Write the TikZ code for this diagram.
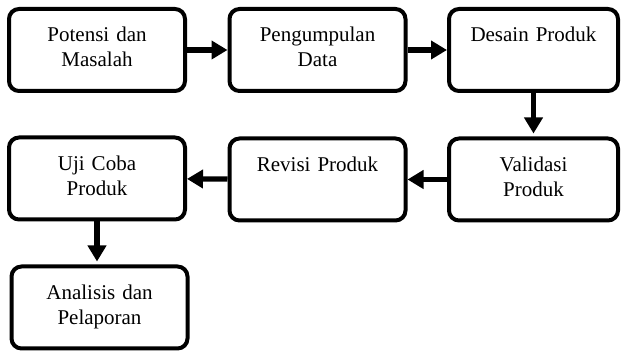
\documentclass[tikz,border=0pt]{standalone}
\usepackage{fontspec}
\setmainfont{Liberation Serif}
\usetikzlibrary{arrows.meta}

\begin{document}
\begin{tikzpicture}[x=0.5pt,y=-0.5pt]
\tikzstyle{box}=[draw=black, line width=2pt, rounded corners=5pt, minimum width=88pt, text width=82pt, align=center, inner sep=0pt, text height=16.5pt, text depth=24.5pt, font=\fontsize{10.5}{12.5}\selectfont]
\tikzstyle{arr}=[black, line width=2.6pt, -{Triangle[length=8pt,width=9pt]}]
\useasboundingbox (0,0) rectangle (622,352);
\node [box] (potensi) at (97,50) {Potensi dan\\Masalah};
\node [box] (data) at (317.5,50) {Pengumpulan\\Data};
\node [box, minimum width=84.5pt] (desain) at (533.5,50) {Desain Produk};
\node [box, minimum width=84.5pt] (validasi) at (533.5,179.5) {Validasi\\Produk};
\node [box] (revisi) at (317.5,179.5) {Revisi Produk};
\node [box] (ujicoba) at (97,178.5) {Uji Coba\\Produk};
\node [box] (analisis) at (99.5,307.5) {Analisis dan\\Pelaporan};
\draw [arr] (potensi) -- (data);
\draw [arr] (data) -- (desain);
\draw [arr, shorten >=1.5pt] (desain) -- (validasi);
\draw [arr] (validasi) -- (revisi);
\draw [arr] (revisi) -- (ujicoba);
\draw [arr, shorten >=1.5pt] (ujicoba.south) -- (ujicoba.south |- analisis.north);
\end{tikzpicture}
\end{document}
